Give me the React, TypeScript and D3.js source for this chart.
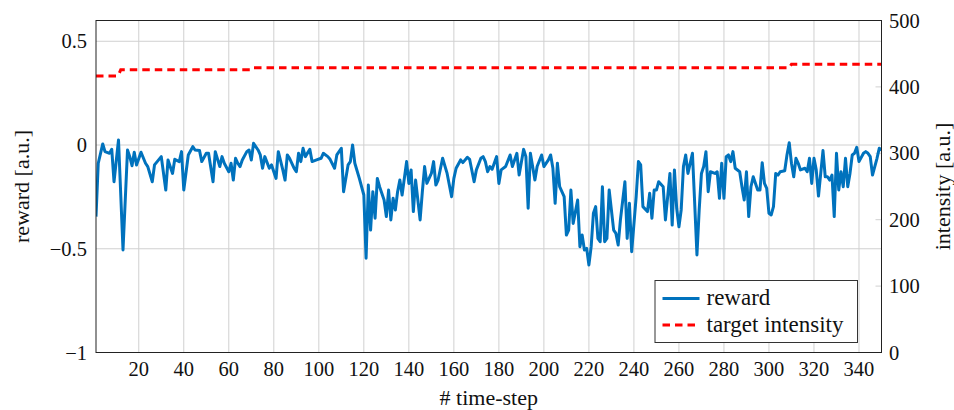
import { useEffect, useRef } from "react";
import * as d3 from "d3";

// reward samples (time-step, value)
const rewardSteps = [
  1, 2, 4, 5, 7, 8, 9, 11, 13, 15, 16, 17, 18, 19, 21, 23, 24, 26, 27, 30,
  32, 33, 35, 36, 38, 39, 40, 42, 44, 45, 47, 48, 50, 51, 53, 54, 56, 57, 58, 60,
  61, 62, 63, 64, 65, 66, 68, 69, 70, 71, 73, 74, 75, 76, 78, 79, 81, 82, 84, 85,
  86, 87, 89, 90, 91, 92, 93, 94, 96, 97, 99, 101, 102, 104, 105, 107, 108, 110, 111, 113,
  114, 115, 116, 118, 120, 121, 122, 123, 124, 125, 126, 127, 129, 130, 131, 132, 133, 134, 135, 136,
  137, 139, 140, 141, 142, 143, 145, 146, 147, 148, 150, 151, 152, 153, 155, 157, 159, 160, 161, 163,
  164, 166, 167, 169, 170, 172, 173, 174, 175, 176, 177, 179, 180, 181, 183, 185, 186, 188, 189, 191,
  192, 193, 194, 196, 197, 199, 200, 202, 203, 204, 205, 206, 207, 209, 210, 211, 212, 213, 215, 216,
  217, 218, 219, 220, 221, 222, 223, 224, 225, 226, 227, 228, 229, 231, 232, 233, 234, 236, 237, 238,
  239, 241, 242, 243, 244, 246, 247, 248, 249, 250, 251, 253, 254, 256, 257, 258, 259, 260, 261, 262,
  263, 264, 266, 267, 268, 269, 270, 271, 272, 273, 274, 276, 277, 278, 279, 280, 281, 282, 283, 284,
  285, 287, 288, 289, 290, 291, 292, 293, 295, 296, 297, 298, 299, 300, 301, 302, 303, 304, 305, 307,
  308, 309, 310, 311, 312, 313, 314, 316, 317, 318, 319, 320, 321, 322, 324, 325, 326, 327, 328, 329,
  330, 331, 332, 333, 334, 335, 336, 337, 338, 339, 340, 342, 343, 344, 345, 346, 348, 349, 350,
];
const rewardValues = [
  -0.345, -0.088, 0.005, -0.032, -0.04, -0.021, -0.177, 0.024, -0.506, -0.024, -0.056, -0.1, -0.035, -0.096, -0.035, -0.088, -0.104, -0.177, -0.096, -0.056,
  -0.217, -0.072, -0.137, -0.069, -0.08, -0.032, -0.217, -0.048, -0.008, -0.024, -0.027, -0.08, -0.04, -0.04, -0.177, -0.032, -0.104, -0.056, -0.088, -0.129,
  -0.088, -0.169, -0.064, -0.088, -0.104, -0.072, -0.032, -0.024, -0.072, 0.008, -0.024, -0.048, -0.112, -0.056, -0.112, -0.096, -0.161, -0.032, -0.12, -0.169,
  -0.048, -0.064, -0.112, -0.129, -0.04, -0.08, -0.016, -0.056, -0.021, -0.08, -0.072, -0.064, -0.04, -0.056, -0.069, -0.112, -0.048, -0.016, -0.225, -0.096,
  -0.08, 0, -0.088, -0.161, -0.241, -0.546, -0.193, -0.41, -0.225, -0.353, -0.161, -0.201, -0.265, -0.345, -0.217, -0.361, -0.257, -0.313, -0.225, -0.169,
  -0.241, -0.08, -0.185, -0.12, -0.321, -0.169, -0.361, -0.225, -0.104, -0.185, -0.137, -0.08, -0.193, -0.169, -0.064, -0.137, -0.249, -0.161, -0.112, -0.072,
  -0.085, -0.059, -0.069, -0.177, -0.12, -0.064, -0.056, -0.08, -0.129, -0.104, -0.117, -0.056, -0.185, -0.12, -0.104, -0.048, -0.104, -0.04, -0.145, -0.021,
  -0.056, -0.305, -0.04, -0.169, -0.104, -0.048, -0.104, -0.072, -0.048, -0.112, -0.281, -0.088, -0.201, -0.249, -0.434, -0.41, -0.217, -0.378, -0.265, -0.49,
  -0.434, -0.506, -0.498, -0.578, -0.49, -0.329, -0.297, -0.45, -0.466, -0.201, -0.466, -0.45, -0.217, -0.41, -0.426, -0.482, -0.361, -0.177, -0.45, -0.281,
  -0.514, -0.249, -0.08, -0.096, -0.297, -0.321, -0.233, -0.353, -0.217, -0.217, -0.177, -0.201, -0.361, -0.137, -0.386, -0.12, -0.305, -0.394, -0.313, -0.104,
  -0.048, -0.137, -0.04, -0.281, -0.53, -0.313, -0.137, -0.104, -0.032, -0.225, -0.129, -0.137, -0.129, -0.257, -0.088, -0.257, -0.056, -0.048, -0.08, -0.032,
  -0.112, -0.129, -0.201, -0.265, -0.129, -0.345, -0.201, -0.153, -0.217, -0.217, -0.085, -0.185, -0.209, -0.329, -0.337, -0.297, -0.137, -0.145, -0.129, -0.124,
  -0.048, 0.011, -0.088, -0.153, -0.064, -0.088, -0.12, -0.112, -0.129, -0.064, -0.185, -0.064, -0.12, -0.246, -0.027, -0.153, -0.153, -0.169, -0.145, -0.345,
  -0.04, -0.217, -0.129, -0.201, -0.064, -0.201, -0.137, -0.048, -0.04, -0.011, -0.08, -0.04, -0.032, -0.04, -0.056, -0.145, -0.064, -0.016, -0.024,
];

// target intensity (step-wise)
const targetSteps = [1, 10, 11, 12, 70, 71, 309, 310, 350];
const targetValues = [416.5, 416.5, 418, 426, 426, 429, 429, 434, 434];

const xTicks = [20, 40, 60, 80, 100, 120, 140, 160, 180, 200, 220, 240, 260, 280, 300, 320, 340];
const leftTicks = [-1, -0.5, 0, 0.5];
const rightTicks = [0, 100, 200, 300, 400, 500];

const W = 954;
const H = 410;
const FONT = "'Liberation Serif', 'DejaVu Serif', serif";
const BLUE = "#0072bd";
const RED = "#ff0000";
const GRID = "#d0d0d0";

export default function App() {
  const svgRef = useRef<SVGSVGElement>(null);

  useEffect(() => {
    if (!svgRef.current) return;
    const svg = d3.select(svgRef.current);
    svg.selectAll("*").remove();

    const left = 96, right = 881.5, top = 20.5, bottom = 352.5;

    const x = d3.scaleLinear().domain([1, 350]).range([left, right]);
    const yL = d3.scaleLinear().domain([-1, 0.6]).range([bottom, top]);
    const yR = d3.scaleLinear().domain([0, 500]).range([bottom, top]);

    svg.append("defs").append("clipPath").attr("id", "plot-clip")
      .append("rect")
      .attr("x", left).attr("y", top)
      .attr("width", right - left).attr("height", bottom - top);

    const grid = svg.append("g").style("stroke", GRID).style("stroke-width", 1);
    xTicks.forEach((t) => {
      grid.append("line")
        .attr("x1", x(t)).attr("x2", x(t))
        .attr("y1", top).attr("y2", bottom);
    });
    leftTicks.filter((t) => t > -1).forEach((t) => {
      grid.append("line")
        .attr("x1", left).attr("x2", right)
        .attr("y1", yL(t)).attr("y2", yL(t));
    });
    // right axis small inner ticks
    rightTicks.filter((t) => t > 0 && t < 500).forEach((t) => {
      grid.append("line")
        .attr("x1", right - 6).attr("x2", right)
        .attr("y1", yR(t)).attr("y2", yR(t));
    });

    const plot = svg.append("g").attr("clip-path", "url(#plot-clip)");

    const target = targetSteps.map((s, i) => [s, targetValues[i]] as [number, number]);
    const reward = rewardSteps.map((s, i) => [s, rewardValues[i]] as [number, number]);

    plot.append("path")
      .datum(target)
      .attr("d", d3.line<[number, number]>().x((d) => x(d[0])).y((d) => yR(d[1])))
      .style("fill", "none")
      .style("stroke", RED)
      .style("stroke-width", 3)
      .style("stroke-dasharray", "7.5 5");

    plot.append("path")
      .datum(reward)
      .attr("d", d3.line<[number, number]>().x((d) => x(d[0])).y((d) => yL(d[1])))
      .style("fill", "none")
      .style("stroke", BLUE)
      .style("stroke-width", 3)
      .style("stroke-linejoin", "round");

    // frame
    svg.append("rect")
      .attr("x", left).attr("y", top)
      .attr("width", right - left).attr("height", bottom - top)
      .style("fill", "none")
      .style("stroke", "#222")
      .style("stroke-width", 1);

    const labels = svg.append("g").style("font-family", FONT).style("fill", "#111");

    xTicks.forEach((t) => {
      labels.append("text")
        .attr("x", x(t)).attr("y", 376)
        .attr("text-anchor", "middle")
        .style("font-size", "20.5px")
        .text(t);
    });

    leftTicks.forEach((t) => {
      labels.append("text")
        .attr("x", 87).attr("y", yL(t) + 7)
        .attr("text-anchor", "end")
        .style("font-size", "20.5px")
        .text(String(t).replace("-", "\u2212"));
    });

    rightTicks.forEach((t) => {
      labels.append("text")
        .attr("x", 889).attr("y", yR(t) + 7)
        .attr("text-anchor", "start")
        .style("font-size", "20.5px")
        .text(t);
    });

    labels.append("text")
      .attr("x", (left + right) / 2).attr("y", 405)
      .attr("text-anchor", "middle")
      .style("font-size", "22px")
      .text("# time-step");

    labels.append("text")
      .attr("transform", `translate(29,${(top + bottom) / 2}) rotate(-90)`)
      .attr("text-anchor", "middle")
      .style("font-size", "22px")
      .text("reward [a.u.]");

    labels.append("text")
      .attr("transform", `translate(950,${(top + bottom) / 2}) rotate(-90)`)
      .attr("text-anchor", "middle")
      .style("font-size", "22px")
      .text("intensity [a.u.]");

    // legend
    const lg = svg.append("g");
    lg.append("rect")
      .attr("x", 655).attr("y", 280.5)
      .attr("width", 202.5).attr("height", 62)
      .style("fill", "#fff")
      .style("stroke", "#333")
      .style("stroke-width", 1);

    const legendItems = [
      { label: "reward", color: BLUE, dash: null as string | null, y: 298.5 },
      { label: "target intensity", color: RED, dash: "7.5 5", y: 325 },
    ];
    legendItems.forEach((item) => {
      const ln = lg.append("line")
        .attr("x1", 662.5).attr("x2", 699.5)
        .attr("y1", item.y).attr("y2", item.y)
        .style("stroke", item.color)
        .style("stroke-width", 3);
      if (item.dash) ln.style("stroke-dasharray", item.dash);
      lg.append("text")
        .attr("x", 706.5).attr("y", item.y + 6.5)
        .style("font-family", FONT)
        .style("font-size", "23px")
        .style("fill", "#111")
        .text(item.label);
    });
  }, []);

  return (
    <svg
      ref={svgRef}
      width={W}
      height={H}
      style={{ position: "absolute", left: 0, top: 0, background: "#fff" }}
    />
  );
}
